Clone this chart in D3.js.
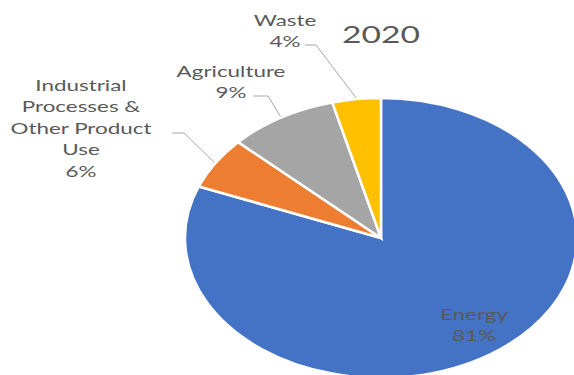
<!DOCTYPE html>
<html>
<head>
<meta charset="utf-8">
<script src="https://cdn.jsdelivr.net/npm/d3@7"></script>
<style>
  body { margin: 0; background: #fff; }
  text { font-family: Lato, "Open Sans", sans-serif; fill: #595959; }
</style>
</head>
<body>
<div id="chart"></div>
<script>
// chart data
var title = "2020";
var categories = ["Energy", "Industrial Processes & Other Product Use", "Agriculture", "Waste"];
var shares = [81, 6, 9, 4];
var colors = ["#4472C4", "#ED7D31", "#A5A5A5", "#FFC000"];

var svgWidth = 574;
var svgHeight = 375;

// the picture is squashed, so the pie is drawn as a stretched circle
var cx = 381, cy = 238, radius = 140, stretch = 1.4;

// label placement (screen px): text centre, first baseline, leader start/elbow
var labelLayout = [
  { x: 474, y: 320 },
  { x: 81, y: 91, lx0: 172, lx1: 184, ly: 133 },
  { x: 231, y: 77, lx0: 253, lx1: 268, ly: 96 },
  { x: 285, y: 26, lx0: 305, lx1: 316, ly: 45 }
];
var lineHeight = 21.5;

var svg = d3.select("#chart")
  .append("svg")
  .attr("width", svgWidth)
  .attr("height", svgHeight);

var data = categories.map(function(c, i) {
  return { name: c, value: shares[i], color: colors[i] };
});
var total = d3.sum(shares);
var pct = d3.format(".0%");

var pie = d3.pie().sort(null).value(function(d) { return d.value; });
var arcs = pie(data);

var arc = d3.arc().innerRadius(0).outerRadius(radius);
var edgeArc = d3.arc().innerRadius(radius + 1).outerRadius(radius + 1);

var pieGroup = svg.append("g")
  .attr("transform", "translate(" + cx + "," + cy + ") scale(" + stretch + ",1)");

pieGroup.selectAll("path")
  .data(arcs)
  .enter()
  .append("path")
  .attr("d", arc)
  .attr("fill", function(d) { return d.data.color; })
  .attr("stroke", "#fff")
  .attr("stroke-width", 2.5)
  .attr("vector-effect", "non-scaling-stroke");

// leader lines
arcs.forEach(function(d, i) {
  var L = labelLayout[i];
  if (L.lx0 === undefined) return;
  var p = edgeArc.centroid(d);
  var px = cx + p[0] * stretch, py = cy + p[1];
  svg.append("polyline")
    .attr("points", [[L.lx0, L.ly], [L.lx1, L.ly], [px, py]].join(" "))
    .attr("fill", "none")
    .attr("stroke", "#a6a6a6")
    .attr("stroke-width", 1);
});

// word wrap to a max width (unstretched px)
function wrapWords(str, maxW, probe) {
  var words = str.split(" "), lines = [], cur = "";
  words.forEach(function(w) {
    var test = cur ? cur + " " + w : w;
    probe.text(test);
    if (cur && probe.node().getComputedTextLength() > maxW) {
      lines.push(cur);
      cur = w;
    } else {
      cur = test;
    }
  });
  if (cur) lines.push(cur);
  return lines;
}

var probe = svg.append("text").attr("font-size", 16).attr("opacity", 0);

arcs.forEach(function(d, i) {
  var L = labelLayout[i];
  var lines = wrapWords(d.data.name, 108, probe);
  lines.push(pct(d.data.value / total));
  var t = svg.append("text")
    .attr("transform", "translate(" + L.x + "," + L.y + ") scale(" + stretch + ",1)")
    .attr("text-anchor", "middle")
    .attr("font-size", 16);
  lines.forEach(function(line, k) {
    t.append("tspan")
      .attr("x", 0)
      .attr("y", k * lineHeight)
      .text(line);
  });
});
probe.remove();

// title
svg.append("text")
  .attr("transform", "translate(381,43) scale(" + stretch + ",1)")
  .attr("text-anchor", "middle")
  .attr("font-size", 24)
  .text(title);
</script>
</body>
</html>
